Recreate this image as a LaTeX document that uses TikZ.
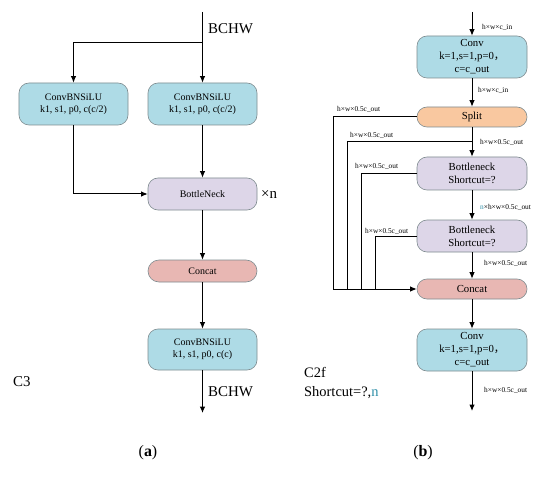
\documentclass[tikz,border=0pt]{standalone}
\usepackage{fontspec}
\setmainfont{Liberation Serif}
\newfontfamily\cjk{Noto Sans CJK SC}
\usetikzlibrary{arrows.meta}
\definecolor{boxblue}{HTML}{AEDBE6}
\definecolor{boxpurple}{HTML}{DDD6E8}
\definecolor{boxpink}{HTML}{E8B7B3}
\definecolor{boxorange}{HTML}{F9C8A0}
\definecolor{boxedge}{HTML}{7F8C90}
\definecolor{tealn}{HTML}{2E8FA8}
\tikzset{
  x=1bp, y=-1bp,
  blk/.style={draw=boxedge, line width=0.6bp, rounded corners=10bp, minimum width=109bp, align=center, inner sep=1bp},
  bluebox/.style={blk, fill=boxblue},
  purplebox/.style={blk, fill=boxpurple},
  pinkbox/.style={blk, fill=boxpink},
  orangebox/.style={blk, fill=boxorange},
  txta/.style={font=\fontsize{10}{12.5}\selectfont},
  txtb/.style={font=\fontsize{10.8}{13}\selectfont},
  small/.style={font=\fontsize{7.4}{8}\selectfont, inner sep=0pt},
  big/.style={font=\fontsize{15}{17}\selectfont, inner sep=0pt},
  conn/.style={line width=1bp, draw=black},
  arr/.style={conn, -{Latex[length=6.5bp,width=5.5bp]}},
}
\begin{document}
\begin{tikzpicture}
\useasboundingbox (0,0) rectangle (550,479);
\fill[white] (0,0) rectangle (550,479);

% ---------- panel (a) ----------
\node[bluebox, txta, minimum height=42bp] (a1) at (73.5,104) {ConvBNSiLU\\k1, s1, p0, c(c/2)};
\node[bluebox, txta, minimum height=42bp] (a2) at (202.5,104) {ConvBNSiLU\\k1, s1, p0, c(c/2)};
\node[purplebox, txta, minimum height=32bp] (abn) at (202.5,194) {BottleNeck};
\node[pinkbox, txta, minimum height=22bp, rounded corners=11bp] (acat) at (202.5,271) {Concat};
\node[bluebox, txta, minimum height=41bp] (a3) at (202.5,349.5) {ConvBNSiLU\\k1, s1, p0, c(c)};
\coordinate (atop) at (202.5,12);
\coordinate (abr) at (202.5,43);
\coordinate (aend) at (202.5,413);
\node[big, anchor=west] (abchw1) at (208,29) {BCHW};
\node[big, anchor=west] (abchw2) at (208,392) {BCHW};
\node[big, anchor=west] (axn) at (261,194) {×n};
\node[big, anchor=west] (ac3) at (13,382) {C3};
\node[font=\fontsize{16}{18}\selectfont, inner sep=0pt] (alab) at (148,453) {(\textbf{a})};

\draw[conn] (atop) -- (abr);
\draw[arr] (abr) -- (a2.north);
\draw[arr] (abr) -| (a1.north);
\draw[arr] (a1.south) |- (abn.west);
\draw[arr] (a2.south) -- (abn.north);
\draw[arr] (abn.south) -- (acat.north);
\draw[arr] (acat.south) -- (a3.north);
\draw[arr] (a3.south) -- (aend);

% ---------- panel (b) ----------
\node[bluebox, txtb, minimum width=110bp, minimum height=42bp, inner sep=0pt] (b1) at (472,57) {Conv\\k=1,s=1,p=0{\cjk ，}\\c=c\_out};
\node[orangebox, txtb, minimum width=110bp, minimum height=20bp, rounded corners=10bp] (bsp) at (472,117) {Split};
\node[purplebox, txtb, minimum width=110bp, minimum height=33bp] (bb1) at (472,173.5) {Bottleneck\\Shortcut=?};
\node[purplebox, txtb, minimum width=110bp, minimum height=32bp] (bb2) at (472,236) {Bottleneck\\Shortcut=?};
\node[pinkbox, txtb, minimum width=110bp, minimum height=20bp, rounded corners=10bp] (bcat) at (472,289) {Concat};
\node[bluebox, txtb, minimum width=110bp, minimum height=42bp, inner sep=0pt] (b2) at (472,350) {Conv\\k=1,s=1,p=0{\cjk ，}\\c=c\_out};
\coordinate (btop) at (472,12);
\coordinate (bend) at (472,411);
\coordinate (bbr) at (472,142);
\coordinate (bx1) at (333,289);
\coordinate (bx2) at (347,289);
\coordinate (bx3) at (361,289);
\coordinate (bx4) at (375,289);

\draw[arr] (btop) -- (b1.north);
\draw[arr] (b1.south) -- (bsp.north);
\draw[arr] (bsp.south) -- (bb1.north);
\draw[arr] (bb1.south) -- (bb2.north);
\draw[arr] (bb2.south) -- (bcat.north);
\draw[arr] (bcat.south) -- (b2.north);
\draw[arr] (b2.south) -- (bend);
\draw[conn] (bsp.west) -| (bx1);
\draw[conn] (bbr) -| (bx2);
\draw[conn] (bb1.west) -| (bx3);
\draw[conn] (bb2.west) -| (bx4);
\draw[arr] (bx1) -- (bcat.west);

\node[small, anchor=west] (l1) at (482,27) {h×w×c\_in};
\node[small, anchor=west] (l2) at (478,90) {h×w×c\_in};
\node[small, anchor=west] (l3) at (337,109) {h×w×0.5c\_out};
\node[small, anchor=west] (l4) at (350,135) {h×w×0.5c\_out};
\node[small, anchor=west] (l5) at (480,142) {h×w×0.5c\_out};
\node[small, anchor=west] (l6) at (355,166) {h×w×0.5c\_out};
\node[small, anchor=west] (l7) at (480,207) {\textcolor{tealn}{n}×h×w×0.5c\_out};
\node[small, anchor=west] (l8) at (365,231) {h×w×0.5c\_out};
\node[small, anchor=west] (l9) at (484,263) {h×w×0.5c\_out};
\node[small, anchor=west] (l10) at (484,390) {h×w×0.5c\_out};
\node[big, anchor=west, align=left, font=\fontsize{14.5}{19}\selectfont] (bc2f) at (304,383) {C2f\\Shortcut=?,\textcolor{tealn}{n}};
\node[font=\fontsize{16}{18}\selectfont, inner sep=0pt] (blab) at (423,453) {(\textbf{b})};
\end{tikzpicture}
\end{document}
